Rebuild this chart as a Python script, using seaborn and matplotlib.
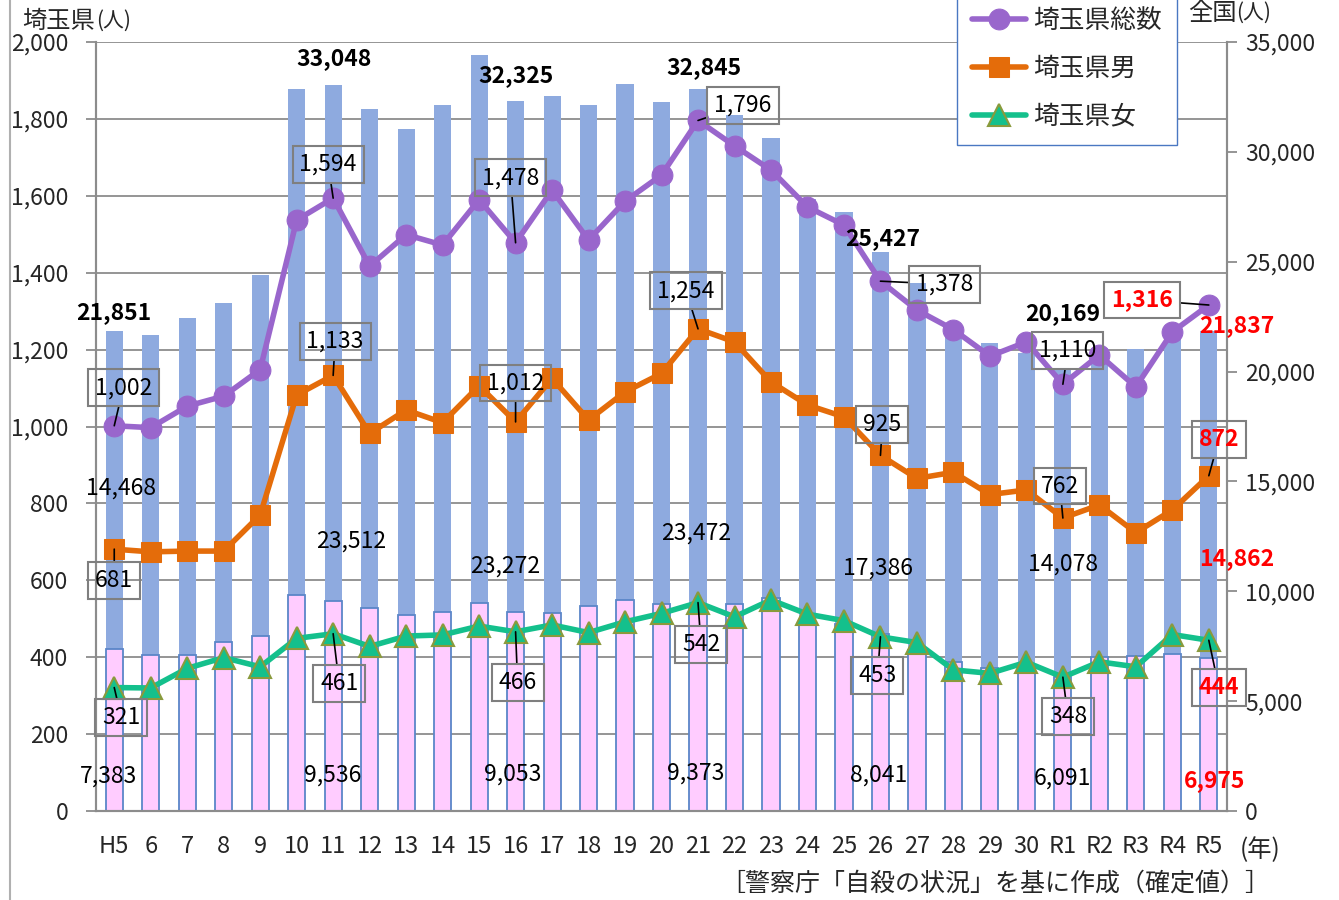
import numpy as np
import pandas as pd
import matplotlib.pyplot as plt
import seaborn as sns
from matplotlib.lines import Line2D
from matplotlib.ticker import FuncFormatter

sns.set_style("white")
plt.rcParams['font.family'] = ['Noto Sans CJK JP', 'DejaVu Sans']

# 年（平成5年～令和5年）
years = ['H5', '6', '7', '8', '9', '10', '11', '12', '13', '14', '15', '16',
         '17', '18', '19', '20', '21', '22', '23', '24', '25', '26', '27',
         '28', '29', '30', 'R1', 'R2', 'R3', 'R4', 'R5']

# 全国（右軸）
nat_male = [14468, 14560, 15352, 15393, 16416, 23013, 23512, 22727, 22144,
            23080, 24963, 23272, 23540, 22813, 23478, 22831, 23472, 22283,
            20955, 19273, 18787, 17386, 16681, 15121, 14826, 14290, 14078,
            14055, 13939, 14746, 14862]
nat_female = [7383, 7119, 7093, 7711, 7975, 9850, 9536, 9230, 8898, 9063,
              9464, 9053, 9012, 9342, 9615, 9418, 9373, 9407, 9696, 8585,
              8496, 8041, 7344, 6776, 6495, 6550, 6091, 7026, 7068, 7135, 6975]

# 埼玉県（左軸）
sai_total = [1002, 997, 1053, 1079, 1148, 1537, 1594, 1417, 1499, 1472, 1590,
             1478, 1615, 1485, 1586, 1654, 1796, 1730, 1667, 1571, 1524, 1378,
             1303, 1252, 1183, 1220, 1110, 1186, 1103, 1246, 1316]
sai_male = [681, 674, 676, 676, 770, 1082, 1133, 982, 1043, 1010, 1106, 1012,
            1125, 1017, 1090, 1138, 1254, 1220, 1116, 1056, 1025, 925, 865,
            881, 823, 835, 762, 796, 724, 783, 872]
sai_female = [321, 320, 371, 399, 375, 449, 461, 428, 455, 458, 481, 466, 484,
              464, 492, 514, 542, 505, 549, 512, 495, 453, 438, 367, 358, 387,
              348, 388, 375, 459, 444]

# ラベルを付ける年
label_idx = [0, 6, 11, 16, 21, 26, 30]

BLUE = '#8eaadf'
PINK = '#ffccff'
EDGE = '#5b86c8'
PURPLE = '#9966cc'
ORANGE = '#e46c0a'
GREEN = '#14c08c'
OLIVE = '#8a9a3c'
GRID = '#8c8c8c'
RED = '#ff0000'

df = pd.DataFrame({'year': years, 'male': nat_male, 'female': nat_female})
df['total'] = df['male'] + df['female']
x = np.arange(len(years))

fig = plt.figure(figsize=(13.39, 9.0), dpi=100)
ax = fig.add_axes([0.0717, 0.0989, 0.8447, 0.8544])
ax2 = ax.twinx()

# 全国の棒（積み上げ）
sns.barplot(data=df, x='year', y='total', color=BLUE, saturation=1,
            width=0.47, linewidth=0, errorbar=None, ax=ax2)
sns.barplot(data=df, x='year', y='female', color=PINK, saturation=1,
            width=0.47, edgecolor=EDGE, linewidth=1.3, errorbar=None, ax=ax2)
ax2.set_ylim(0, 35000)
for v in range(0, 2001, 200):
    ax2.axhline(v * 35000 / 2000, color=GRID, lw=1.3, zorder=0)

# 埼玉県の折れ線
sns.lineplot(x=x, y=sai_total, ax=ax, color=PURPLE, lw=4, marker='o',
             markersize=15, markeredgecolor=PURPLE, label='埼玉県総数')
sns.lineplot(x=x, y=sai_male, ax=ax, color=ORANGE, lw=4, marker='s',
             markersize=14, markeredgecolor=ORANGE, label='埼玉県男')
sns.lineplot(x=x, y=sai_female, ax=ax, color=GREEN, lw=4, marker='^',
             markersize=16, markeredgecolor=OLIVE, markeredgewidth=1.5,
             label='埼玉県女')
handles, labels = ax.get_legend_handles_labels()
if ax.get_legend() is not None:
    ax.get_legend().remove()

ax.set_zorder(ax2.get_zorder() + 1)
ax.patch.set_visible(False)

ax.set_xlim(-0.5, len(years) - 0.5)
ax.set_ylim(0, 2000)
ax.set_yticks(range(0, 2001, 200))
ax2.set_yticks(range(0, 35001, 5000))
comma = FuncFormatter(lambda v, p: f'{int(v):,}')
ax.yaxis.set_major_formatter(comma)
ax2.yaxis.set_major_formatter(comma)
ax.set_xticks(x, labels=years)
ax.set_xticks(np.arange(-0.5, len(years), 1), minor=True)
ax.tick_params(axis='x', which='major', length=0, pad=17, labelsize=17)
ax.tick_params(axis='x', which='minor', length=9, width=1.3, color=GRID)
ax.tick_params(axis='y', length=7, width=1.3, color=GRID, labelsize=16.5, pad=13)
ax2.tick_params(axis='y', length=7, width=1.3, color=GRID, labelsize=16.5, pad=6)
for a in (ax, ax2):
    a.set_xlabel('')
    a.set_ylabel('')
    a.spines['top'].set_visible(False)
    for s in ('left', 'right', 'bottom'):
        a.spines[s].set_color(GRID)
        a.spines[s].set_linewidth(1.5)

# 埼玉県の数値ラベル（枠付き）
total_off = {0: (9, 38), 6: (-5, 34), 11: (-5, 65), 16: (45, 15),
             21: (64, -3), 26: (5, 34), 30: (-67, 5)}
male_off = {0: (0, -31), 6: (2, 34), 11: (0, 39), 16: (-12, 38),
            21: (2, 31), 26: (-3, 32), 30: (10, 36)}
female_off = {0: (7, -30), 6: (6, -50), 11: (2, -51), 16: (3, -42),
              21: (-3, -39), 26: (5, -39), 30: (10, -47)}

for series, offs in ((sai_total, total_off), (sai_male, male_off),
                     (sai_female, female_off)):
    for i in label_idx:
        last = i == len(years) - 1
        ax.annotate(f'{series[i]:,}', xy=(i, series[i]), xytext=offs[i],
                    textcoords='offset pixels', ha='center', va='center',
                    fontsize=16.5, color=RED if last else 'black',
                    fontweight='bold' if last else 'normal',
                    bbox=dict(boxstyle='square,pad=0.3', fc='none',
                              ec='#7f7f7f', lw=1.5),
                    arrowprops=dict(arrowstyle='-', color='black', lw=1.2,
                                    shrinkA=0, shrinkB=0))

# 全国の数値ラベル（線より手前に描く）
top_off = {0: (0, 18), 6: (1, 26), 11: (0, 25), 16: (6, 22), 21: (2, 14),
           26: (0, 54), 30: (28, 6)}
male_lab = {0: (7, 323), 6: (18, 270), 11: (-10, 245), 16: (-2, 278),
            21: (-2, 243), 26: (0, 247), 30: (28, 252)}
female_lab = {0: (-6, 35), 6: (0, 36), 11: (-3, 37), 16: (-2, 38),
              21: (-2, 36), 26: (0, 33), 30: (6, 30)}
for i in label_idx:
    last = i == len(years) - 1
    col = RED if last else 'black'
    ax.annotate(f'{df["total"][i]:,}', xy=(i, df['total'][i]),
                xycoords=ax2.transData, xytext=top_off[i],
                textcoords='offset pixels', ha='center', va='center',
                fontsize=16.5, fontweight='bold', color=col)
    ax.annotate(f'{nat_male[i]:,}', xy=(i, 0), xycoords=ax2.transData,
                xytext=male_lab[i], textcoords='offset pixels', ha='center',
                va='center', fontsize=16.5, color=col,
                fontweight='bold' if last else 'normal')
    ax.annotate(f'{nat_female[i]:,}', xy=(i, 0), xycoords=ax2.transData,
                xytext=female_lab[i], textcoords='offset pixels', ha='center',
                va='center', fontsize=16.5, color=col,
                fontweight='bold' if last else 'normal')

fig.legend(handles, labels, loc='lower left',
           bbox_to_anchor=(957 / 1339, 1 - 145 / 900),
           fontsize=18.5, frameon=True, fancybox=False, edgecolor='#4a78c2',
           framealpha=1, handlelength=2.1, handletextpad=0.25, labelspacing=0.85,
           borderpad=0.6, borderaxespad=0)

fig.text(22 / 1339, 1 - 21 / 900, '埼玉県', fontsize=17.5, va='center', ha='left')
fig.text(96 / 1339, 1 - 21 / 900, '(人)', fontsize=15, va='center', ha='left')
fig.text(1188 / 1339, 1 - 13 / 900, '全国', fontsize=17.5, va='center', ha='left')
fig.text(1236 / 1339, 1 - 13 / 900, '(人)', fontsize=15, va='center', ha='left')
fig.text(1260 / 1339, 1 - 850 / 900, '(年)', fontsize=17.5, va='center', ha='center')
fig.text(995 / 1339, 1 - 884 / 900, '［警察庁「自殺の状況」を基に作成（確定値）］',
         fontsize=18, va='center', ha='center')
fig.add_artist(Line2D([10 / 1339, 10 / 1339], [0, 1], color='#b0b0b0', lw=1.5))

plt.savefig('out.png', dpi=100)
